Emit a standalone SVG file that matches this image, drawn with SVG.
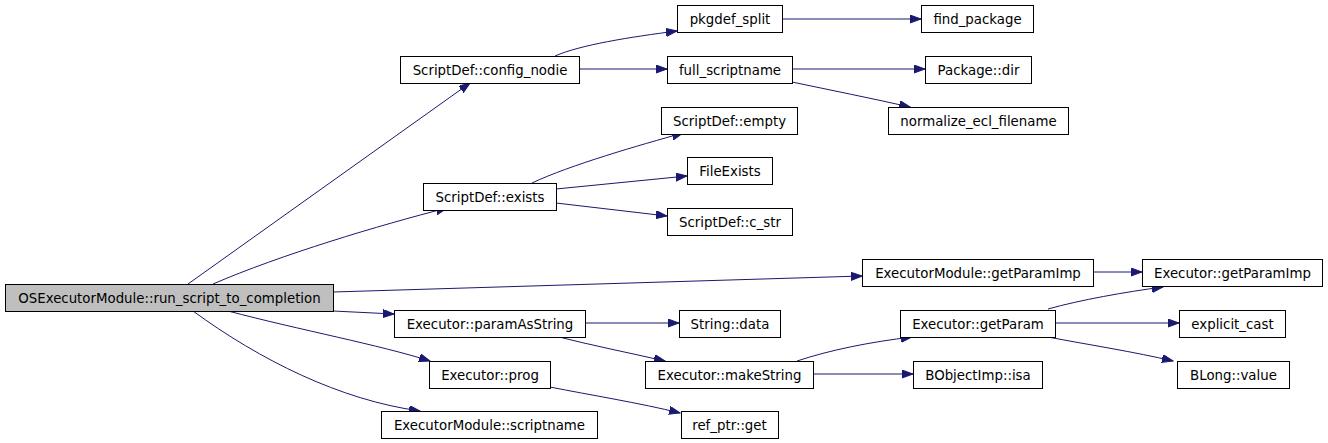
<svg xmlns="http://www.w3.org/2000/svg" width="1328" height="443" viewBox="0 0 1328 443">
<style>
.n rect{fill:#ffffff;stroke:#000000;stroke-width:1}
.n.root rect{fill:#bfbfbf}
.n text{font-family:"DejaVu Sans",sans-serif;font-size:13.33px;fill:#000000;text-anchor:middle}
.e path{fill:none;stroke:#191970;stroke-width:1;marker-end:url(#ah)}
</style>
<defs>
<marker id="ah" markerUnits="userSpaceOnUse" markerWidth="12" markerHeight="10" refX="11" refY="4" orient="auto">
<path d="M0,0 L11,4 L0,8 Z" fill="#191970" stroke="#191970" stroke-width="1"/>
</marker>
</defs>
<g id="connectors" class="e">
<path d="M188,284 L470,83"/>
<path d="M213,284 C280,255 380,225 447,208"/>
<path d="M333,292 L862,276"/>
<path d="M333,311 L394,314"/>
<path d="M228,311 C300,330 380,345 430,361"/>
<path d="M193,311 C260,360 340,400 420,411"/>
<path d="M555,56 C580,45 630,37 677,31"/>
<path d="M579,69 L667,69"/>
<path d="M782,19 L921,19"/>
<path d="M792,69 L925,69"/>
<path d="M792,82 C830,90 870,98 910,107"/>
<path d="M532,183 C570,165 640,145 683,133"/>
<path d="M556,189 L687,176"/>
<path d="M556,203 L667,216"/>
<path d="M1093,272 L1142,272"/>
<path d="M585,323 L679,323"/>
<path d="M555,336 C590,345 630,353 665,361"/>
<path d="M550,387 C590,395 640,403 680,413"/>
<path d="M797,361 C830,350 870,342 912,337"/>
<path d="M813,374 L913,374"/>
<path d="M1048,309 C1080,300 1125,292 1163,287"/>
<path d="M1055,323 L1179,323"/>
<path d="M1048,337 C1090,345 1135,352 1173,361"/>
</g>
<g id="n_root" class="n root"><rect x="5.5" y="284.5" width="328" height="27"/><text x="169.5" y="303">OSExecutorModule::run_script_to_completion</text></g>
<g id="n_config_nodie" class="n"><rect x="400.5" y="56.5" width="179" height="27"/><text x="490" y="75">ScriptDef::config_nodie</text></g>
<g id="n_pkgdef_split" class="n"><rect x="677.5" y="5.5" width="105" height="27"/><text x="730" y="24">pkgdef_split</text></g>
<g id="n_find_package" class="n"><rect x="921.5" y="5.5" width="112" height="27"/><text x="977.5" y="24">find_package</text></g>
<g id="n_full_scriptname" class="n"><rect x="667.5" y="56.5" width="125" height="27"/><text x="730" y="75">full_scriptname</text></g>
<g id="n_package_dir" class="n"><rect x="925.5" y="56.5" width="106" height="27"/><text x="978.5" y="75">Package::dir</text></g>
<g id="n_normalize" class="n"><rect x="888.5" y="107.5" width="180" height="27"/><text x="978.5" y="126">normalize_ecl_filename</text></g>
<g id="n_empty" class="n"><rect x="661.5" y="107.5" width="136" height="27"/><text x="729.5" y="126">ScriptDef::empty</text></g>
<g id="n_fileexists" class="n"><rect x="687.5" y="157.5" width="85" height="27"/><text x="730" y="176">FileExists</text></g>
<g id="n_exists" class="n"><rect x="423.5" y="183.5" width="133" height="27"/><text x="490" y="202">ScriptDef::exists</text></g>
<g id="n_c_str" class="n"><rect x="667.5" y="208.5" width="125" height="27"/><text x="730" y="227">ScriptDef::c_str</text></g>
<g id="n_mod_getparamimp" class="n"><rect x="862.5" y="259.5" width="231" height="27"/><text x="978" y="278">ExecutorModule::getParamImp</text></g>
<g id="n_exec_getparamimp" class="n"><rect x="1142.5" y="259.5" width="180" height="27"/><text x="1232.5" y="278">Executor::getParamImp</text></g>
<g id="n_paramasstring" class="n"><rect x="394.5" y="310.5" width="191" height="27"/><text x="490" y="329">Executor::paramAsString</text></g>
<g id="n_string_data" class="n"><rect x="679.5" y="310.5" width="101" height="27"/><text x="730" y="329">String::data</text></g>
<g id="n_getparam" class="n"><rect x="900.5" y="310.5" width="155" height="27"/><text x="978" y="329">Executor::getParam</text></g>
<g id="n_explicit_cast" class="n"><rect x="1179.5" y="310.5" width="106" height="27"/><text x="1232.5" y="329">explicit_cast</text></g>
<g id="n_prog" class="n"><rect x="429.5" y="361.5" width="121" height="27"/><text x="490" y="380">Executor::prog</text></g>
<g id="n_makestring" class="n"><rect x="645.5" y="361.5" width="168" height="27"/><text x="729.5" y="380">Executor::makeString</text></g>
<g id="n_isa" class="n"><rect x="913.5" y="361.5" width="129" height="27"/><text x="978" y="380">BObjectImp::isa</text></g>
<g id="n_blong_value" class="n"><rect x="1177.5" y="361.5" width="112" height="27"/><text x="1233.5" y="380">BLong::value</text></g>
<g id="n_scriptname" class="n"><rect x="381.5" y="411.5" width="216" height="27"/><text x="489.5" y="430">ExecutorModule::scriptname</text></g>
<g id="n_ref_ptr_get" class="n"><rect x="681.5" y="411.5" width="97" height="27"/><text x="729.5" y="430">ref_ptr::get</text></g>
</svg>
